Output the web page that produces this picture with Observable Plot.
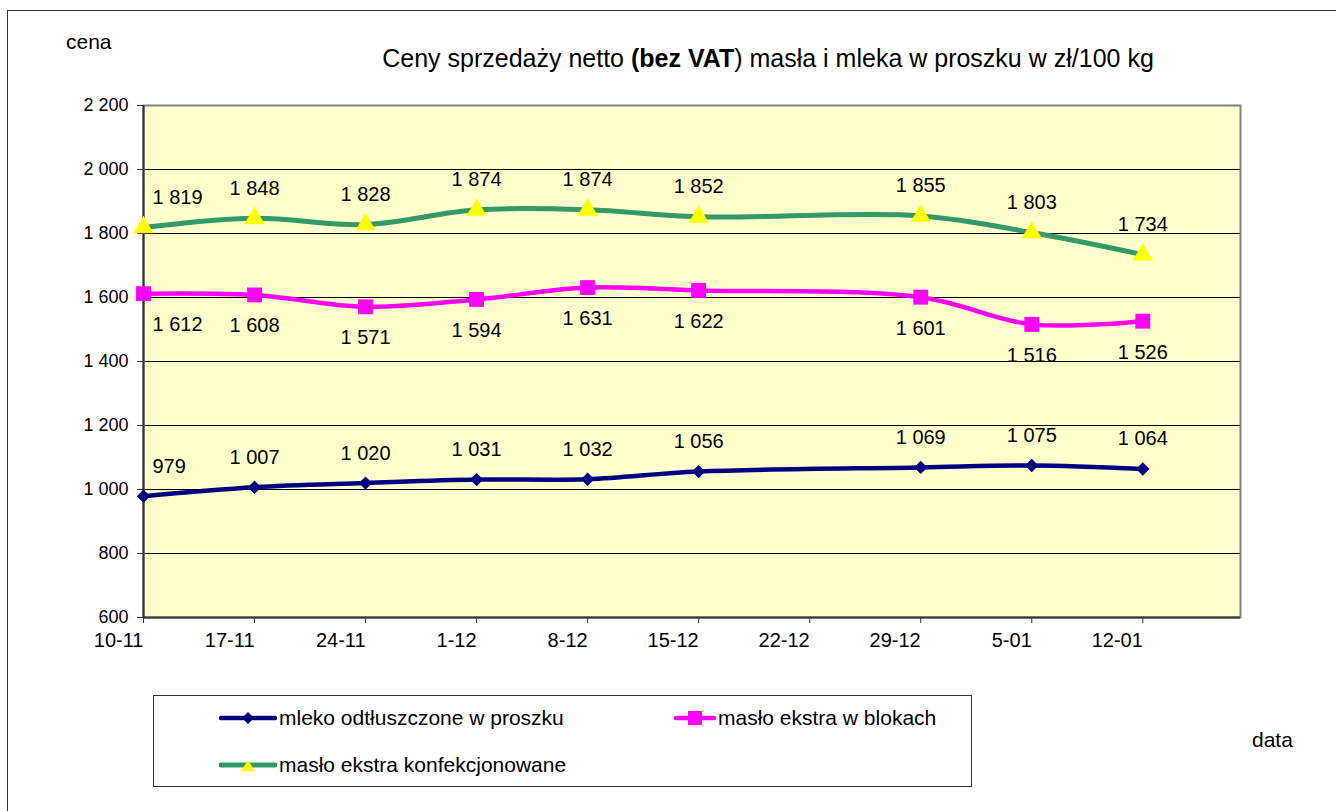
<!DOCTYPE html>
<html>
<head>
<meta charset="utf-8">
<script src="https://cdn.jsdelivr.net/npm/d3@7"></script>
<script src="https://cdn.jsdelivr.net/npm/@observablehq/plot@0.6"></script>
<style>
  html, body { margin: 0; padding: 0; background: #fff; overflow: hidden; }
  body { width: 1336px; height: 811px; position: relative; font-family: "Liberation Sans", Arial, sans-serif; color: #000; }
  #frame { position: absolute; left: 7px; top: 10px; width: 1400px; height: 900px; border: 1.5px solid #333; box-sizing: border-box; }
  #chart { position: absolute; left: 0; top: 0; }
  .lbl { position: absolute; white-space: nowrap; }
  #title { position: absolute; left: 0; width: 1536px; top: 44px; text-align: center; font-size: 25px; }
  #legend { position: absolute; left: 153px; top: 695px; width: 819px; height: 92px; border: 1.5px solid #333; box-sizing: border-box; background: #fff; }
  .item { position: absolute; display: flex; align-items: center; font-size: 21px; white-space: nowrap; }
  .item svg { display: block; margin-right: 2px; }
</style>
</head>
<body>
<div id="frame"></div>
<div id="chart"></div>
<div id="title">Ceny sprzedaży netto <b>(bez VAT</b>) masła i mleka w proszku w zł/100 kg</div>
<div class="lbl" style="left:66px; top:30px; font-size:21px;">cena</div>
<div class="lbl" style="left:1252px; top:728px; font-size:21px;">data</div>
<div id="legend"></div>
<script>
const dates = ["10-11","17-11","24-11","1-12","8-12","15-12","22-12","29-12","5-01","12-01"];
const mleko = [979, 1007, 1020, 1031, 1032, 1056, null, 1069, 1075, 1064];
const bloki = [1612, 1608, 1571, 1594, 1631, 1622, null, 1601, 1516, 1526];
const konf  = [1819, 1848, 1828, 1874, 1874, 1852, null, 1855, 1803, 1734];
const seriesNames = ["mleko odtłuszczone w proszku", "masło ekstra w blokach", "masło ekstra konfekcjonowane"];
const yTicks = [600, 800, 1000, 1200, 1400, 1600, 1800, 2000, 2200];

const fmt = v => d3.format(",")(v).replace(/,/g, " ");

function rows(values, name) {
  return values.map((v, i) => ({i, date: dates[i], value: v, series: name})).filter(d => d.value != null);
}
const rMleko = rows(mleko, seriesNames[0]);
const rBloki = rows(bloki, seriesNames[1]);
const rKonf = rows(konf, seriesNames[2]);

const navy = "#000080", pink = "#FF00FF", green = "#339966", yellow = "#FFFF00";

function labels(data, dy) {
  return [
    Plot.text(data.filter(d => d.i > 0), {x: "i", y: "value", text: d => fmt(d.value), dy, fontSize: 20, fill: "#000"}),
    Plot.text(data.filter(d => d.i === 0), {x: "i", y: "value", text: d => fmt(d.value), dy, dx: 9, textAnchor: "start", fontSize: 20, fill: "#000"})
  ];
}

const W = 1336, H = 680;
const chart = Plot.plot({
  width: W,
  height: H,
  marginLeft: 143,
  marginRight: W - 1240,
  marginTop: 105,
  marginBottom: H - 617,
  style: {fontFamily: "'Liberation Sans', Arial, sans-serif", background: "transparent", overflow: "visible"},
  x: {type: "linear", domain: [0, 9.88], axis: null},
  y: {domain: [600, 2200], axis: null},
  marks: [
    Plot.frame({fill: "#FFFFCC", stroke: null}),
    Plot.ruleY(yTicks.filter(t => t > 600 && t < 2200), {stroke: "#000", strokeWidth: 1}),
    Plot.frame({stroke: "#808080", strokeWidth: 2}),
    Plot.ruleX([0], {stroke: "#333", strokeWidth: 2}),
    Plot.ruleY([600], {stroke: "#333", strokeWidth: 2}),
    Plot.axisY({ticks: yTicks, tickFormat: fmt, tickSize: 6, tickPadding: 9, fontSize: 18, stroke: "#333", color: "#000", label: null}),
    Plot.axisX({ticks: d3.range(0, 10), tickFormat: i => dates[i], tickSize: 6, tickPadding: 9, fontSize: 20, stroke: "#333", color: "#000", label: null, textAnchor: "end"}),
    Plot.line(rKonf, {x: "i", y: "value", stroke: green, strokeWidth: 5, curve: "catmull-rom"}),
    Plot.line(rBloki, {x: "i", y: "value", stroke: pink, strokeWidth: 4.5, curve: "catmull-rom"}),
    Plot.line(rMleko, {x: "i", y: "value", stroke: navy, strokeWidth: 4.5, curve: "catmull-rom"}),
    Plot.dot(rKonf, {x: "i", y: "value", symbol: "triangle", r: 7.5, fill: yellow, stroke: null}),
    Plot.dot(rBloki, {x: "i", y: "value", symbol: "square", r: 8.4, fill: pink, stroke: null}),
    Plot.dot(rMleko, {x: "i", y: "value", symbol: "diamond2", r: 6, fill: navy, stroke: null}),
    ...labels(rKonf, -30),
    ...labels(rBloki, 31),
    ...labels(rMleko, -30)
  ]
});
document.getElementById("chart").appendChild(chart);

// Legend
const legend = document.getElementById("legend");
const legendItems = [
  {name: seriesNames[0], color: navy, marker: "diamond", left: 218 - 153, top: 717 - 695, w: 58},
  {name: seriesNames[1], color: pink, marker: "square", left: 673 - 153, top: 717 - 695, w: 42},
  {name: seriesNames[2], color: green, marker: "triangle", left: 218 - 153, top: 764 - 695, w: 58}
];
legendItems.forEach(it => {
  const div = document.createElement("div");
  div.className = "item";
  div.style.left = it.left + "px";
  div.style.top = (it.top - 12) + "px";
  div.style.height = "24px";
  const w = it.w, cx = w / 2;
  let m = "";
  if (it.marker === "diamond") m = `<path d="M${cx-6},12 L${cx},6 L${cx+6},12 L${cx},18Z" fill="${navy}"/>`;
  if (it.marker === "square") m = `<rect x="${cx-7}" y="5" width="14" height="14" fill="${pink}"/>`;
  if (it.marker === "triangle") m = `<path d="M${cx-7},18 L${cx},7 L${cx+7},18Z" fill="${yellow}"/>`;
  div.innerHTML = `<svg width="${w}" height="24"><line x1="2" x2="${w-2}" y1="12" y2="12" stroke="${it.color}" stroke-width="${it.marker==='triangle'?5:4.5}" stroke-linecap="round"/>${m}</svg><span>${it.name}</span>`;
  legend.appendChild(div);
});
</script>
</body>
</html>
